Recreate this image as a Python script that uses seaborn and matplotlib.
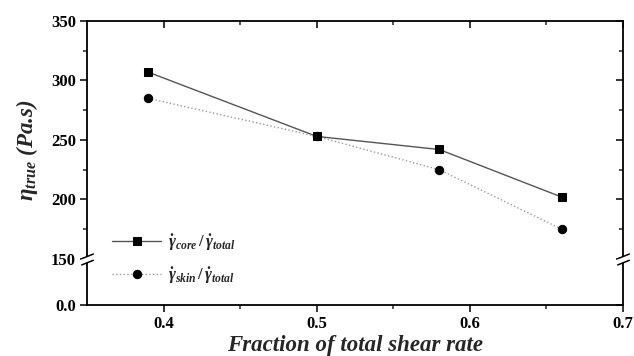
import numpy as np
import pandas as pd
import matplotlib
matplotlib.use("Agg")
import matplotlib.pyplot as plt
import matplotlib.transforms as mtransforms
from matplotlib.path import Path
from matplotlib.ticker import FixedLocator
import seaborn as sns

# Shear-rate fractions and true viscosity values
fraction = [0.39, 0.50, 0.58, 0.66]
eta_core = [307, 253, 242, 202]
eta_skin = [285, 253, 225, 175]

x_ticks = [0.4, 0.5, 0.6, 0.7]
x_tick_labels = ["0.4", "0.5", "0.6", "0.7"]
y_ticks = [0, 150, 200, 250, 300, 350]
y_tick_labels = ["0.0", "150", "200", "250", "300", "350"]

sns.set_theme(style="ticks")
plt.rcParams["font.family"] = ["Liberation Serif", "DejaVu Serif"]
plt.rcParams["font.weight"] = "bold"
plt.rcParams["mathtext.fontset"] = "custom"
plt.rcParams["mathtext.rm"] = "Liberation Serif:bold"
plt.rcParams["mathtext.it"] = "Liberation Serif:italic:bold"
plt.rcParams["mathtext.bf"] = "Liberation Serif:bold"

# Broken y axis: values below 150 are compressed into a short band
BREAK = 150.0
LOW_SPAN = 38.7


def fwd(y):
    y = np.asarray(y, dtype=float)
    return np.where(y >= BREAK, y, BREAK - LOW_SPAN + y * LOW_SPAN / BREAK)


def inv(v):
    v = np.asarray(v, dtype=float)
    return np.where(v >= BREAK, v, (v - (BREAK - LOW_SPAN)) * BREAK / LOW_SPAN)


fig = plt.figure(figsize=(6.34, 3.56), dpi=100)
ax = fig.add_axes([87 / 634, 1 - 305 / 356, 536 / 634, 284 / 356])

df = pd.DataFrame({"fraction": fraction, "core": eta_core, "skin": eta_skin})

sns.lineplot(data=df, x="fraction", y="core", ax=ax, color="#555555",
             linewidth=1.0, marker="s", markersize=5.5, markerfacecolor="black",
             markeredgecolor="black",
             label=r"$\dot{\gamma}_{core}\,/\,\dot{\gamma}_{total}$")
sns.lineplot(data=df, x="fraction", y="skin", ax=ax, color="#9a9a9a",
             linewidth=1.0, linestyle=":", marker="o", markersize=6,
             markerfacecolor="black", markeredgecolor="black",
             label=r"$\dot{\gamma}_{skin}\,/\,\dot{\gamma}_{total}$")

ax.set_yscale("function", functions=(fwd, inv))
ax.set_xlim(0.35, 0.7)
ax.set_ylim(0, 350)
ax.set_xticks(x_ticks)
ax.set_xticklabels(x_tick_labels)
ax.set_yticks(y_ticks)
ax.set_yticklabels(y_tick_labels)
ax.xaxis.set_minor_locator(FixedLocator([0.45, 0.55, 0.65]))
ax.yaxis.set_minor_locator(FixedLocator([175, 225, 275, 325]))

for s in ax.spines.values():
    s.set_linewidth(1.3)
    s.set_color("black")
    s.set_visible(True)

ax.tick_params(axis="both", which="major", direction="out", length=5, width=1.1,
               labelsize=12, colors="black", pad=3)
ax.tick_params(axis="both", which="minor", direction="out", length=3, width=1.1)
ax.tick_params(which="both", top=True, right=True)
for lab in ax.get_xticklabels() + ax.get_yticklabels():
    lab.set_fontweight("bold")

# Mirror ticks on top/right point inward
for t in ax.xaxis.get_major_ticks() + ax.xaxis.get_minor_ticks():
    t.tick2line.set_marker(matplotlib.lines.TICKDOWN)
for t in ax.yaxis.get_major_ticks() + ax.yaxis.get_minor_ticks():
    t.tick2line.set_marker(matplotlib.lines.TICKLEFT)

ax.set_xlabel("Fraction of total shear rate", fontsize=16.5, fontweight="bold",
              fontstyle="italic", labelpad=2)
ax.set_ylabel(r"$\eta_{true}$ (Pa.s)", fontsize=16.5, fontweight="bold",
              fontstyle="italic")
ax.yaxis.set_label_coords(-0.088, 0.545)

# Axis-break marks on both vertical spines
gap_path = Path([(-1, -0.9), (1, -0.1), (1, 0.9), (-1, 0.1), (-1, -0.9)],
                [Path.MOVETO, Path.LINETO, Path.LINETO, Path.LINETO, Path.CLOSEPOLY])
slash_path = Path([(-1, -0.9), (1, -0.1), (-1, 0.1), (1, 0.9)],
                  [Path.MOVETO, Path.LINETO, Path.MOVETO, Path.LINETO])
trans = mtransforms.blended_transform_factory(ax.transAxes, ax.transData)
for xa in (0.0, 1.0):
    ax.plot([xa], [BREAK], transform=trans, marker=gap_path, markersize=9,
            markerfacecolor="white", markeredgecolor="none", linestyle="none",
            clip_on=False, zorder=5)
    ax.plot([xa], [BREAK], transform=trans, marker=slash_path, markersize=9,
            markerfacecolor="none", markeredgecolor="black", markeredgewidth=1.1,
            linestyle="none", clip_on=False, zorder=6)

ax.legend(loc="center left", bbox_to_anchor=(0.035, 0.162), frameon=False,
          fontsize=12, handlelength=2.9, handletextpad=0.45, labelspacing=0.7,
          borderaxespad=0)

fig.savefig("out.png", dpi=100, facecolor="white")
